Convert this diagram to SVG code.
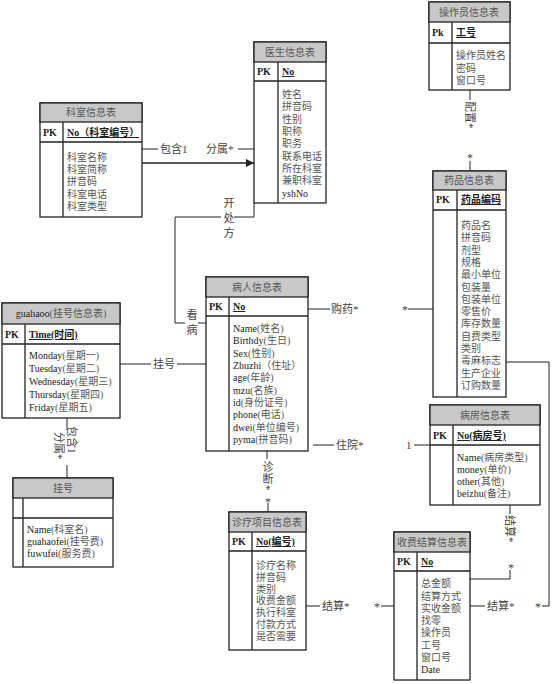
<svg xmlns="http://www.w3.org/2000/svg" width="554" height="684" viewBox="0 0 554 684">
<style>
.box{fill:#fff;stroke:#222;stroke-width:1.3}
.hd{fill:#c8c8c8;stroke:#222;stroke-width:1.3}
.ln{stroke:#222;stroke-width:1.3;fill:none}
.cn{stroke:#222;stroke-width:1;fill:none}
text{font-family:"Liberation Serif","Noto Sans CJK SC",serif;font-size:10px;fill:#222}
.ht{text-anchor:middle;fill:#555}
.pk{font-weight:bold}
.key{font-weight:bold;text-decoration:underline}
.f{fill:#555}
.lb{fill:#444;font-size:11px}
.st{fill:#444;font-size:12px}
.mid{text-anchor:middle}
.vt{writing-mode:tb;glyph-orientation-vertical:0}
</style>
<defs>
<marker id="arr" viewBox="0 0 10 10" refX="10" refY="5" markerWidth="8" markerHeight="8" orient="auto" markerUnits="userSpaceOnUse">
<path d="M0,0 L10,5 L0,10 z" fill="#222"/>
</marker>
</defs>
<rect width="554" height="684" fill="#fff"/>

<g id="connectors">
<!-- keshi - yisheng -->
<line class="cn" x1="142" y1="149" x2="158" y2="149"/>
<text class="lb" x="160" y="153">包含1</text>
<text class="lb" x="206" y="153">分属*</text>
<line class="cn" x1="238" y1="149" x2="254" y2="149"/>
<line class="ln" x1="142" y1="163" x2="254" y2="163" marker-end="url(#arr)"/>
<!-- 开处方 / 看病 -->
<path class="cn" d="M254,203 V217 H234"/>
<path class="cn" d="M221,217 H175 V323 H185"/>
<line class="cn" x1="198" y1="323" x2="206" y2="323"/>
<text class="lb vt" x="228" y="197" letter-spacing="4">开处方</text>
<text class="lb vt" x="191" y="309" letter-spacing="4">看病</text>
<!-- 挂号 -->
<line class="cn" x1="120" y1="364" x2="151" y2="364"/>
<text class="lb" x="153" y="368">挂号</text>
<line class="cn" x1="177" y1="364" x2="206" y2="364"/>
<!-- 购药 -->
<line class="cn" x1="308" y1="309" x2="330" y2="309"/>
<text class="lb" x="331" y="313">购药*</text>
<text class="st" x="402" y="314">*</text>
<line class="cn" x1="408" y1="309" x2="433" y2="309"/>
<!-- 住院 -->
<line class="cn" x1="313" y1="445" x2="334" y2="445"/>
<text class="lb" x="336" y="449">住院*</text>
<text class="lb" x="406" y="449">1</text>
<line class="cn" x1="414" y1="445" x2="432" y2="445"/>
<!-- 配置 -->
<line class="cn" x1="470" y1="90" x2="470" y2="100"/>
<text class="lb" transform="translate(466,101) rotate(90)">配置*</text>
<text class="st mid" x="470" y="162">*</text>
<line class="cn" x1="470" y1="161" x2="470" y2="171"/>
<!-- 诊断 -->
<line class="cn" x1="267" y1="451" x2="267" y2="459"/>
<text class="lb vt" x="267" y="461" letter-spacing="1">诊断*</text>
<text class="st mid" x="268" y="506">*</text>
<line class="cn" x1="268" y1="503" x2="268" y2="512"/>
<!-- 包含1 / 分属* vertical -->
<line class="cn" x1="67" y1="418" x2="67" y2="430"/>
<text class="lb" transform="translate(68,426) rotate(90)">包含1</text>
<text class="lb" transform="translate(55,432) rotate(90)">分属*</text>
<line class="cn" x1="67" y1="465" x2="67" y2="478"/>
<!-- 结算 诊疗 - 收费 -->
<line class="cn" x1="306" y1="606" x2="320" y2="606"/>
<text class="lb" x="322" y="610">结算*</text>
<text class="st" x="374" y="611">*</text>
<line class="cn" x1="381" y1="606" x2="394" y2="606"/>
<!-- 结算 收费 - 药品 -->
<line class="cn" x1="470" y1="606" x2="485" y2="606"/>
<text class="lb" x="487" y="610">结算*</text>
<text class="st" x="535" y="611">*</text>
<path class="cn" d="M542,606 H549 V362 H506"/>
<!-- 结算 病房 - 收费 -->
<line class="cn" x1="510" y1="505" x2="510" y2="514"/>
<text class="lb" transform="translate(506,515) rotate(90)">结算*</text>
<text class="st mid" x="511" y="572">*</text>
<path class="cn" d="M510,570 V579 H470"/>
</g>

<g id="keshi">
<rect class="box" x="40" y="103" width="102" height="114"/>
<rect class="hd" x="40" y="103" width="102" height="19"/>
<line class="ln" x1="40" y1="142" x2="142" y2="142"/>
<line class="ln" x1="63" y1="122" x2="63" y2="217"/>
<text class="ht" x="91" y="116">科室信息表</text>
<text class="pk" x="43" y="136">PK</text>
<text class="key" x="67" y="136">No（科室编号）</text>
<text class="f" x="67" y="161">科室名称</text>
<text class="f" x="67" y="173">科室简称</text>
<text class="f" x="67" y="185">拼音码</text>
<text class="f" x="67" y="198">科室电话</text>
<text class="f" x="67" y="210">科室类型</text>
</g>

<g id="yisheng">
<rect class="box" x="254" y="42" width="72" height="161"/>
<rect class="hd" x="254" y="42" width="72" height="20"/>
<line class="ln" x1="254" y1="81" x2="326" y2="81"/>
<line class="ln" x1="278" y1="62" x2="278" y2="203"/>
<text class="ht" x="290" y="56">医生信息表</text>
<text class="pk" x="257" y="75">PK</text>
<text class="key" x="282" y="75">No</text>
<text class="f" x="282" y="98">姓名</text>
<text class="f" x="282" y="110">拼音码</text>
<text class="f" x="282" y="123">性别</text>
<text class="f" x="282" y="135">职称</text>
<text class="f" x="282" y="147">职务</text>
<text class="f" x="282" y="160">联系电话</text>
<text class="f" x="282" y="172">所在科室</text>
<text class="f" x="282" y="184">兼职科室</text>
<text x="282" y="197">yshNo</text>
</g>

<g id="caozuoyuan">
<rect class="box" x="429" y="2" width="81" height="88"/>
<rect class="hd" x="429" y="2" width="81" height="20"/>
<line class="ln" x1="429" y1="43" x2="510" y2="43"/>
<line class="ln" x1="452" y1="22" x2="452" y2="90"/>
<text class="ht" x="469" y="16">操作员信息表</text>
<text class="pk" x="432" y="36">Pk</text>
<text class="key" x="456" y="36">工号</text>
<text class="f" x="456" y="59">操作员姓名</text>
<text class="f" x="456" y="72">密码</text>
<text class="f" x="456" y="84">窗口号</text>
</g>

<g id="yaopin">
<rect class="box" x="433" y="171" width="73" height="226"/>
<rect class="hd" x="433" y="171" width="73" height="19"/>
<line class="ln" x1="433" y1="210" x2="506" y2="210"/>
<line class="ln" x1="457" y1="190" x2="457" y2="397"/>
<text class="ht" x="469" y="184">药品信息表</text>
<text class="pk" x="436" y="203">PK</text>
<text class="key" x="461" y="203">药品编码</text>
<text class="f" x="461" y="229">药品名</text>
<text class="f" x="461" y="241">拼音码</text>
<text class="f" x="461" y="254">剂型</text>
<text class="f" x="461" y="266">规格</text>
<text class="f" x="461" y="278">最小单位</text>
<text class="f" x="461" y="291">包装量</text>
<text class="f" x="461" y="303">包装单位</text>
<text class="f" x="461" y="315">零售价</text>
<text class="f" x="461" y="327">库存数量</text>
<text class="f" x="461" y="340">自费类型</text>
<text class="f" x="461" y="352">类别</text>
<text class="f" x="461" y="364">毒麻标志</text>
<text class="f" x="461" y="377">生产企业</text>
<text class="f" x="461" y="389">订购数量</text>
</g>

<g id="bingren">
<rect class="box" x="206" y="277" width="102" height="174"/>
<rect class="hd" x="206" y="277" width="102" height="20"/>
<line class="ln" x1="206" y1="316" x2="308" y2="316"/>
<line class="ln" x1="229" y1="297" x2="229" y2="451"/>
<text class="ht" x="257" y="291">病人信息表</text>
<text class="pk" x="209" y="310">PK</text>
<text class="key" x="233" y="310">No</text>
<text x="233" y="332">Name<tspan class="f">(姓名)</tspan></text>
<text x="233" y="344">Birthdy<tspan class="f">(生日)</tspan></text>
<text x="233" y="357">Sex<tspan class="f">(性别)</tspan></text>
<text x="233" y="369">Zhuzhi<tspan class="f">（住址）</tspan></text>
<text x="233" y="381">age<tspan class="f">(年龄)</tspan></text>
<text x="233" y="394">mzu<tspan class="f">(名族)</tspan></text>
<text x="233" y="406">id<tspan class="f">(身份证号)</tspan></text>
<text x="233" y="418">phone<tspan class="f">(电话)</tspan></text>
<text x="233" y="431">dwei<tspan class="f">(单位编号)</tspan></text>
<text x="233" y="443">pyma<tspan class="f">(拼音码)</tspan></text>
</g>

<g id="guahaoo">
<rect class="box" x="2" y="303" width="118" height="115"/>
<rect class="hd" x="2" y="303" width="118" height="21"/>
<line class="ln" x1="2" y1="344" x2="120" y2="344"/>
<line class="ln" x1="25" y1="324" x2="25" y2="418"/>
<text class="ht" x="61" y="317"><tspan fill="#222">guahaoo</tspan>(挂号信息表)</text>
<text class="pk" x="5" y="338">PK</text>
<text class="key" x="29" y="338">Time(时间)</text>
<text x="29" y="359">Monday<tspan class="f">(星期一)</tspan></text>
<text x="29" y="372">Tuesday<tspan class="f">(星期二)</tspan></text>
<text x="29" y="385">Wednesday<tspan class="f">(星期三)</tspan></text>
<text x="29" y="398">Thursday<tspan class="f">(星期四)</tspan></text>
<text x="29" y="411">Friday<tspan class="f">(星期五)</tspan></text>
</g>

<g id="guahao">
<rect class="box" x="13" y="478" width="100" height="89"/>
<rect class="hd" x="13" y="478" width="100" height="20"/>
<line class="ln" x1="13" y1="518" x2="113" y2="518"/>
<line class="ln" x1="23" y1="498" x2="23" y2="567"/>
<text class="ht" x="63" y="492">挂号</text>
<text x="27" y="533">Name<tspan class="f">(科室名)</tspan></text>
<text x="27" y="545">guahaofei<tspan class="f">(挂号费)</tspan></text>
<text x="27" y="557">fuwufei<tspan class="f">(服务费)</tspan></text>
</g>

<g id="zhenliao">
<rect class="box" x="229" y="512" width="77" height="138"/>
<rect class="hd" x="229" y="512" width="77" height="20"/>
<line class="ln" x1="229" y1="551" x2="306" y2="551"/>
<line class="ln" x1="252" y1="532" x2="252" y2="650"/>
<text class="ht" x="267" y="526">诊疗项目信息表</text>
<text class="pk" x="232" y="545">PK</text>
<text class="key" x="256" y="545">No(编号)</text>
<text class="f" x="256" y="569">诊疗名称</text>
<text class="f" x="256" y="581">拼音码</text>
<text class="f" x="256" y="593">类别</text>
<text class="f" x="256" y="604">收费金额</text>
<text class="f" x="256" y="616">执行科室</text>
<text class="f" x="256" y="628">付款方式</text>
<text class="f" x="256" y="640">是否需要</text>
</g>

<g id="bingfang">
<rect class="box" x="430" y="405" width="110" height="100"/>
<rect class="hd" x="430" y="405" width="110" height="20"/>
<line class="ln" x1="430" y1="445" x2="540" y2="445"/>
<line class="ln" x1="453" y1="425" x2="453" y2="505"/>
<text class="ht" x="485" y="419">病房信息表</text>
<text class="pk" x="433" y="439">PK</text>
<text class="key" x="457" y="439">No(病房号)</text>
<text x="457" y="461">Name<tspan class="f">(病房类型)</tspan></text>
<text x="457" y="473">money<tspan class="f">(单价)</tspan></text>
<text x="457" y="485">other<tspan class="f">(其他)</tspan></text>
<text x="457" y="497">beizhu<tspan class="f">(备注)</tspan></text>
</g>

<g id="shoufei">
<rect class="box" x="394" y="532" width="76" height="148"/>
<rect class="hd" x="394" y="532" width="76" height="20"/>
<line class="ln" x1="394" y1="571" x2="470" y2="571"/>
<line class="ln" x1="417" y1="552" x2="417" y2="680"/>
<text class="ht" x="432" y="546">收费结算信息表</text>
<text class="pk" x="397" y="565">PK</text>
<text class="key" x="421" y="565">No</text>
<text class="f" x="421" y="587">总金额</text>
<text class="f" x="421" y="600">结算方式</text>
<text class="f" x="421" y="612">实收金额</text>
<text class="f" x="421" y="624">找零</text>
<text class="f" x="421" y="636">操作员</text>
<text class="f" x="421" y="649">工号</text>
<text class="f" x="421" y="661">窗口号</text>
<text x="421" y="673">Date</text>
</g>
</svg>
